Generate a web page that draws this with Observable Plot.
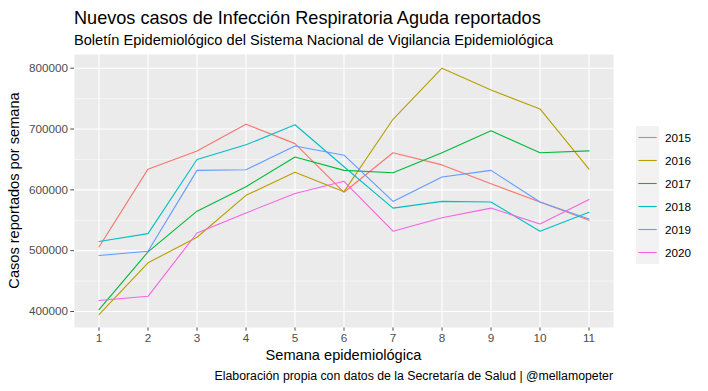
<!DOCTYPE html>
<html><head><meta charset="utf-8">
<script src="https://cdn.jsdelivr.net/npm/d3@7"></script>
<script src="https://cdn.jsdelivr.net/npm/@observablehq/plot@0.6"></script>
<style>
body{margin:0;background:#fff;}
#wrap{position:relative;width:708px;height:391px;}
</style></head><body><div id="wrap"></div>
<script>
const weeks = [1, 2, 3, 4, 5, 6, 7, 8, 9, 10, 11];
const years = ["2015", "2016", "2017", "2018", "2019", "2020"];
const cases2015 = [506000, 634000, 664000, 708000, 676000, 596000, 661000, 641000, 610000, 580000, 550000];
const cases2016 = [395000, 480000, 522000, 591000, 629000, 597000, 716000, 800000, 764000, 733000, 634000];
const cases2017 = [403000, 498000, 565000, 605000, 654000, 632000, 628000, 661000, 697000, 661000, 664000];
const cases2018 = [515000, 528000, 650000, 674000, 707000, 638000, 570000, 581000, 580000, 532000, 563000];
const cases2019 = [492000, 499000, 632000, 633000, 672000, 657000, 581000, 621000, 632000, 580000, 552000];
const cases2020 = [418000, 425000, 529000, 562000, 594000, 614000, 532000, 554000, 570000, 544000, 584000];
const yTicks = [400000, 500000, 600000, 700000, 800000];
const yMinor = [450000, 550000, 650000, 750000];
const colors = ["#F8766D", "#B79F00", "#00BA38", "#00BFC4", "#619CFF", "#F564E3"];

const title = "Nuevos casos de Infección Respiratoria Aguda reportados";
const subtitle = "Boletín Epidemiológico del Sistema Nacional de Vigilancia Epidemiológica";
const xTitle = "Semana epidemiológica";
const yTitle = "Casos reportados por semana";
const caption = "Elaboración propia con datos de la Secretaría de Salud | @mellamopeter";

const series = [cases2015, cases2016, cases2017, cases2018, cases2019, cases2020];
const data = years.flatMap((yr, i) => weeks.map((w, j) => ({year: yr, week: w, cases: series[i][j]})));

const FONT = "'Liberation Sans', Arial, sans-serif";
const W = 708, H = 391, ML = 74, MR = 95, MT = 54, MB = 64;

const chart = Plot.plot({
  width: W, height: H, marginLeft: ML, marginRight: MR, marginTop: MT, marginBottom: MB,
  style: {fontFamily: FONT, fontSize: "11.7px", color: "#4D4D4D", background: "white", overflow: "visible"},
  x: {domain: [0.5, 11.5], ticks: weeks, tickFormat: d => String(d), tickSize: 3.7, tickPadding: 2.9, label: null},
  y: {domain: [373700, 822500], ticks: yTicks, tickFormat: d3.format("d"), tickSize: 3.7, tickPadding: 2.9, label: null},
  color: {domain: years, range: colors},
  marks: [
    Plot.frame({fill: "#EBEBEB", stroke: "none"}),
    Plot.ruleY(yMinor, {stroke: "white", strokeWidth: 0.55}),
    Plot.ruleY(yTicks, {stroke: "white", strokeWidth: 1.1}),
    Plot.ruleX(weeks, {stroke: "white", strokeWidth: 1.1}),
    Plot.line(data, {x: "week", y: "cases", z: "year", stroke: "year", strokeWidth: 1.1})
  ]
});
document.getElementById("wrap").appendChild(chart);

const svg = d3.select(chart);
const txt = (x, y, s, size, opts = {}) => {
  const t = svg.append("text").attr("x", x).attr("y", y).text(s)
    .attr("font-family", FONT).attr("font-size", size).attr("fill", opts.fill || "#000")
    .attr("text-anchor", opts.anchor || "start");
  if (opts.rotate) t.attr("transform", `rotate(-90,${x},${y})`);
  return t;
};
txt(ML, 24, title, "18.1px");
txt(ML, 45, subtitle, "14.6px");
txt((ML + W - MR) / 2, 360, xTitle, "14.6px", {anchor: "middle"});
txt(19, (MT + H - MB) / 2, yTitle, "14.6px", {anchor: "middle", rotate: true});
txt(W - MR, 380, caption, "12.3px", {anchor: "end"});

const color = chart.scale("color");
const lg = svg.append("g");
years.forEach((yr, i) => {
  const y0 = 126 + 23 * i;
  lg.append("rect").attr("x", 636).attr("y", y0).attr("width", 23).attr("height", 23).attr("fill", "#F2F2F2");
  lg.append("line").attr("x1", 638.3).attr("x2", 656.7).attr("y1", y0 + 11.5).attr("y2", y0 + 11.5)
    .attr("stroke", color.apply(yr)).attr("stroke-width", 1.1);
  txt(665, y0 + 15.5, yr, "11.7px");
});
</script></body></html>
